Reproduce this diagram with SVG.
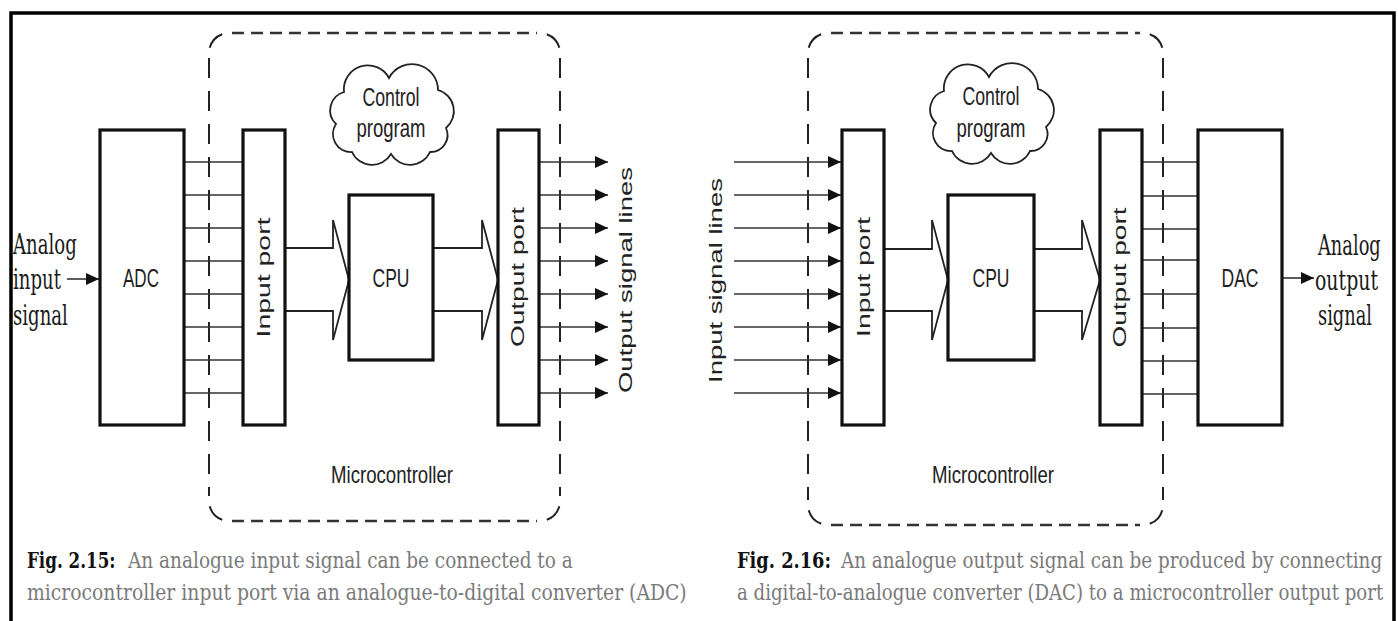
<svg xmlns="http://www.w3.org/2000/svg" width="1398" height="621" viewBox="0 0 1398 621">
  <style>
    .box{fill:#fff;stroke:#111;stroke-width:3.2}
    .bus{stroke:#333;stroke-width:1.6;fill:none}
    .sig{stroke:#333;stroke-width:1.6;fill:none;marker-end:url(#tip)}
    .fat{fill:none;stroke:#222;stroke-width:1.8;stroke-linejoin:miter}
    .dh{stroke:#333;stroke-width:2.4;stroke-dasharray:12 7;fill:none}
    .dv{stroke:#222;stroke-width:2;stroke-dasharray:20 13;fill:none}
    .arc{stroke:#222;stroke-width:2;fill:none}
    .lbl{font-family:"Liberation Sans",Arial,sans-serif;fill:#222;text-anchor:middle}
    .rot{font-family:"Liberation Sans",Arial,sans-serif;fill:#222;font-size:18px;text-anchor:middle}
    .ser{font-family:"DejaVu Serif","Liberation Serif",serif;fill:#1a1a1a;font-size:27px}
    .cap{font-family:"DejaVu Serif","Liberation Serif",serif;font-size:22px;fill:#7a7a7a}
    .capb{font-family:"DejaVu Serif","Liberation Serif",serif;font-size:22px;font-weight:bold;fill:#111}
    .cloud{fill:#fff;stroke:#222;stroke-width:1.8}
  </style>
  <defs>
    <marker id="tip" markerWidth="14" markerHeight="12" refX="13" refY="6" orient="auto" markerUnits="userSpaceOnUse">
      <path d="M0,0 L13,6 L0,12 Z" fill="#111"/>
    </marker>
    <!-- cloud outline centred on 0,0 -->
    <path id="cloudShape" class="cloud" d="M-47,-22 A24,24 0 0 1 -2,-36 A26,26 0 0 1 47,-24 A22,22 0 0 1 55,14 A17,17 0 0 1 39,38 A22,22 0 0 1 0,40 A22,22 0 0 1 -39,38 A18,18 0 0 1 -55,10 A19,19 0 0 1 -47,-22 Z"/>
  </defs>

  <rect width="1398" height="621" fill="#fff"/>

  <!-- outer frame, open at the bottom -->
  <path d="M11,621 V13 H1394 V621" fill="none" stroke="#000" stroke-width="3.5"/>

  <!-- ============ Fig 2.15: ADC to input port ============ -->
  <g id="mcu-left">
    <path class="dh" d="M232,33 H537 M232,521 H537"/>
    <path class="dv" d="M209,58 V496 M560,58 V496"/>
    <path class="arc" d="M209.7,47.8 A20,20 0 0 1 222.2,34.2 M546.8,34.2 A20,20 0 0 1 559.3,47.8 M559.3,506.2 A20,20 0 0 1 546.8,519.8 M222.2,519.8 A20,20 0 0 1 209.7,506.2"/>
    <text class="lbl" x="392" y="483" font-size="24" textLength="122" lengthAdjust="spacingAndGlyphs">Microcontroller</text>
  </g>

  <g id="cloud-left">
    <use href="#cloudShape" transform="translate(391,114)"/>
    <text class="lbl" x="391" y="106" font-size="25" textLength="57" lengthAdjust="spacingAndGlyphs">Control</text>
    <text class="lbl" x="391" y="137" font-size="25" textLength="69" lengthAdjust="spacingAndGlyphs">program</text>
  </g>

  <g id="connectors-left">
    <path class="sig" d="M67,279 H99"/>
    <path class="bus" d="M184,162 H243 M184,195 H243 M184,228 H243 M184,261 H243 M184,294 H243 M184,327 H243 M184,360 H243 M184,393 H243"/>
    <path class="fat" d="M285,248 H333 V220 L349,280 L333,340 V311 H285"/>
    <path class="fat" d="M433,248 H482 V220 L498,280 L482,340 V311 H433"/>
    <path class="sig" d="M539,162 H608"/>
    <path class="sig" d="M539,195 H608"/>
    <path class="sig" d="M539,228 H608"/>
    <path class="sig" d="M539,261 H608"/>
    <path class="sig" d="M539,294 H608"/>
    <path class="sig" d="M539,327 H608"/>
    <path class="sig" d="M539,360 H608"/>
    <path class="sig" d="M539,393 H608"/>
  </g>

  <!-- condensed serif labels -->
  <g id="analog-in">
    <text class="ser" transform="translate(13,254) scale(0.67,1)">Analog</text>
    <text class="ser" transform="translate(13,289) scale(0.67,1)">input</text>
    <text class="ser" transform="translate(13,325) scale(0.67,1)">signal</text>
  </g>

  <g id="adc">
    <rect class="box" x="100" y="130" width="84" height="295"/>
    <text class="lbl" x="141" y="287" font-size="26" textLength="36" lengthAdjust="spacingAndGlyphs">ADC</text>
  </g>

  <g id="input-port-left">
    <rect class="box" x="243" y="130" width="42" height="295"/>
    <text class="rot" transform="translate(270,277.5) rotate(-90)" textLength="120" lengthAdjust="spacingAndGlyphs">Input port</text>
  </g>

  <g id="cpu-left">
    <rect class="box" x="349" y="195" width="84" height="165"/>
    <text class="lbl" x="391" y="287" font-size="26" textLength="37" lengthAdjust="spacingAndGlyphs">CPU</text>
  </g>

  <g id="output-port-left">
    <rect class="box" x="498" y="130" width="41" height="295"/>
    <text class="rot" transform="translate(524,277) rotate(-90)" textLength="140" lengthAdjust="spacingAndGlyphs">Output port</text>
  </g>

  <g id="output-lines-label">
    <text class="rot" font-size="19" transform="translate(632,280) rotate(-90)" textLength="226" lengthAdjust="spacingAndGlyphs">Output signal lines</text>
  </g>

  <!-- ============ Fig 2.16: output port to DAC ============ -->
  <g id="mcu-right">
    <path class="dh" d="M831,33 H1140 M831,525 H1140"/>
    <path class="dv" d="M808,58 V500 M1163,58 V500"/>
    <path class="arc" d="M808.7,47.8 A20,20 0 0 1 821.2,34.2 M1149.8,34.2 A20,20 0 0 1 1162.3,47.8 M1162.3,510.2 A20,20 0 0 1 1149.8,523.8 M821.2,523.8 A20,20 0 0 1 808.7,510.2"/>
    <text class="lbl" x="993" y="483" font-size="24" textLength="122" lengthAdjust="spacingAndGlyphs">Microcontroller</text>
  </g>

  <g id="cloud-right">
    <use href="#cloudShape" transform="translate(991,113)"/>
    <text class="lbl" x="991" y="105" font-size="25" textLength="57" lengthAdjust="spacingAndGlyphs">Control</text>
    <text class="lbl" x="991" y="137" font-size="25" textLength="69" lengthAdjust="spacingAndGlyphs">program</text>
  </g>

  <g id="connectors-right">
    <path class="sig" d="M734,162 H841"/>
    <path class="sig" d="M734,195 H841"/>
    <path class="sig" d="M734,228 H841"/>
    <path class="sig" d="M734,261 H841"/>
    <path class="sig" d="M734,294 H841"/>
    <path class="sig" d="M734,327 H841"/>
    <path class="sig" d="M734,360 H841"/>
    <path class="sig" d="M734,393 H841"/>
    <path class="fat" d="M884,249 H932 V220 L948,280 L932,340 V311 H884"/>
    <path class="fat" d="M1034,249 H1082 V220 L1100,280 L1082,340 V311 H1034"/>
    <path class="bus" d="M1142,162 H1198 M1142,196 H1198 M1142,229 H1198 M1142,260 H1198 M1142,294 H1198 M1142,328 H1198 M1142,361 H1198 M1142,394 H1198"/>
    <path class="sig" d="M1282,278 H1314"/>
  </g>

  <g id="input-lines-label">
    <text class="rot" font-size="19" transform="translate(722,280.5) rotate(-90)" textLength="205" lengthAdjust="spacingAndGlyphs">Input signal lines</text>
  </g>

  <g id="input-port-right">
    <rect class="box" x="842" y="130" width="42" height="295"/>
    <text class="rot" transform="translate(870,277) rotate(-90)" textLength="120" lengthAdjust="spacingAndGlyphs">Input port</text>
  </g>

  <g id="cpu-right">
    <rect class="box" x="948" y="195" width="86" height="165"/>
    <text class="lbl" x="991" y="287" font-size="26" textLength="37" lengthAdjust="spacingAndGlyphs">CPU</text>
  </g>

  <g id="output-port-right">
    <rect class="box" x="1100" y="130" width="42" height="295"/>
    <text class="rot" transform="translate(1126,277.5) rotate(-90)" textLength="140" lengthAdjust="spacingAndGlyphs">Output port</text>
  </g>

  <g id="dac">
    <rect class="box" x="1198" y="130" width="84" height="295"/>
    <text class="lbl" x="1240" y="287" font-size="26" textLength="37" lengthAdjust="spacingAndGlyphs">DAC</text>
  </g>

  <g id="analog-out">
    <text class="ser" transform="translate(1318,255) scale(0.66,1)">Analog</text>
    <text class="ser" transform="translate(1315,290) scale(0.7,1)">output</text>
    <text class="ser" transform="translate(1318,325) scale(0.66,1)">signal</text>
  </g>

  <!-- captions, set in a horizontally condensed serif -->
  <g id="caption-215">
    <text class="capb" transform="translate(27,568) scale(0.79,1)" textLength="112" lengthAdjust="spacingAndGlyphs">Fig. 2.15:</text>
    <text class="cap" transform="translate(128,568) scale(0.79,1)" textLength="563" lengthAdjust="spacingAndGlyphs">An analogue input signal can be connected to a</text>
    <text class="cap" transform="translate(27,600) scale(0.79,1)" textLength="835" lengthAdjust="spacingAndGlyphs">microcontroller input port via an analogue-to-digital converter (ADC)</text>
  </g>
  <g id="caption-216">
    <text class="capb" transform="translate(737,568) scale(0.79,1)" textLength="119" lengthAdjust="spacingAndGlyphs">Fig. 2.16:</text>
    <text class="cap" transform="translate(841,568) scale(0.79,1)" textLength="685" lengthAdjust="spacingAndGlyphs">An analogue output signal can be produced by connecting</text>
    <text class="cap" transform="translate(737,600) scale(0.79,1)" textLength="818" lengthAdjust="spacingAndGlyphs">a digital-to-analogue converter (DAC) to a microcontroller output port</text>
  </g>
</svg>
